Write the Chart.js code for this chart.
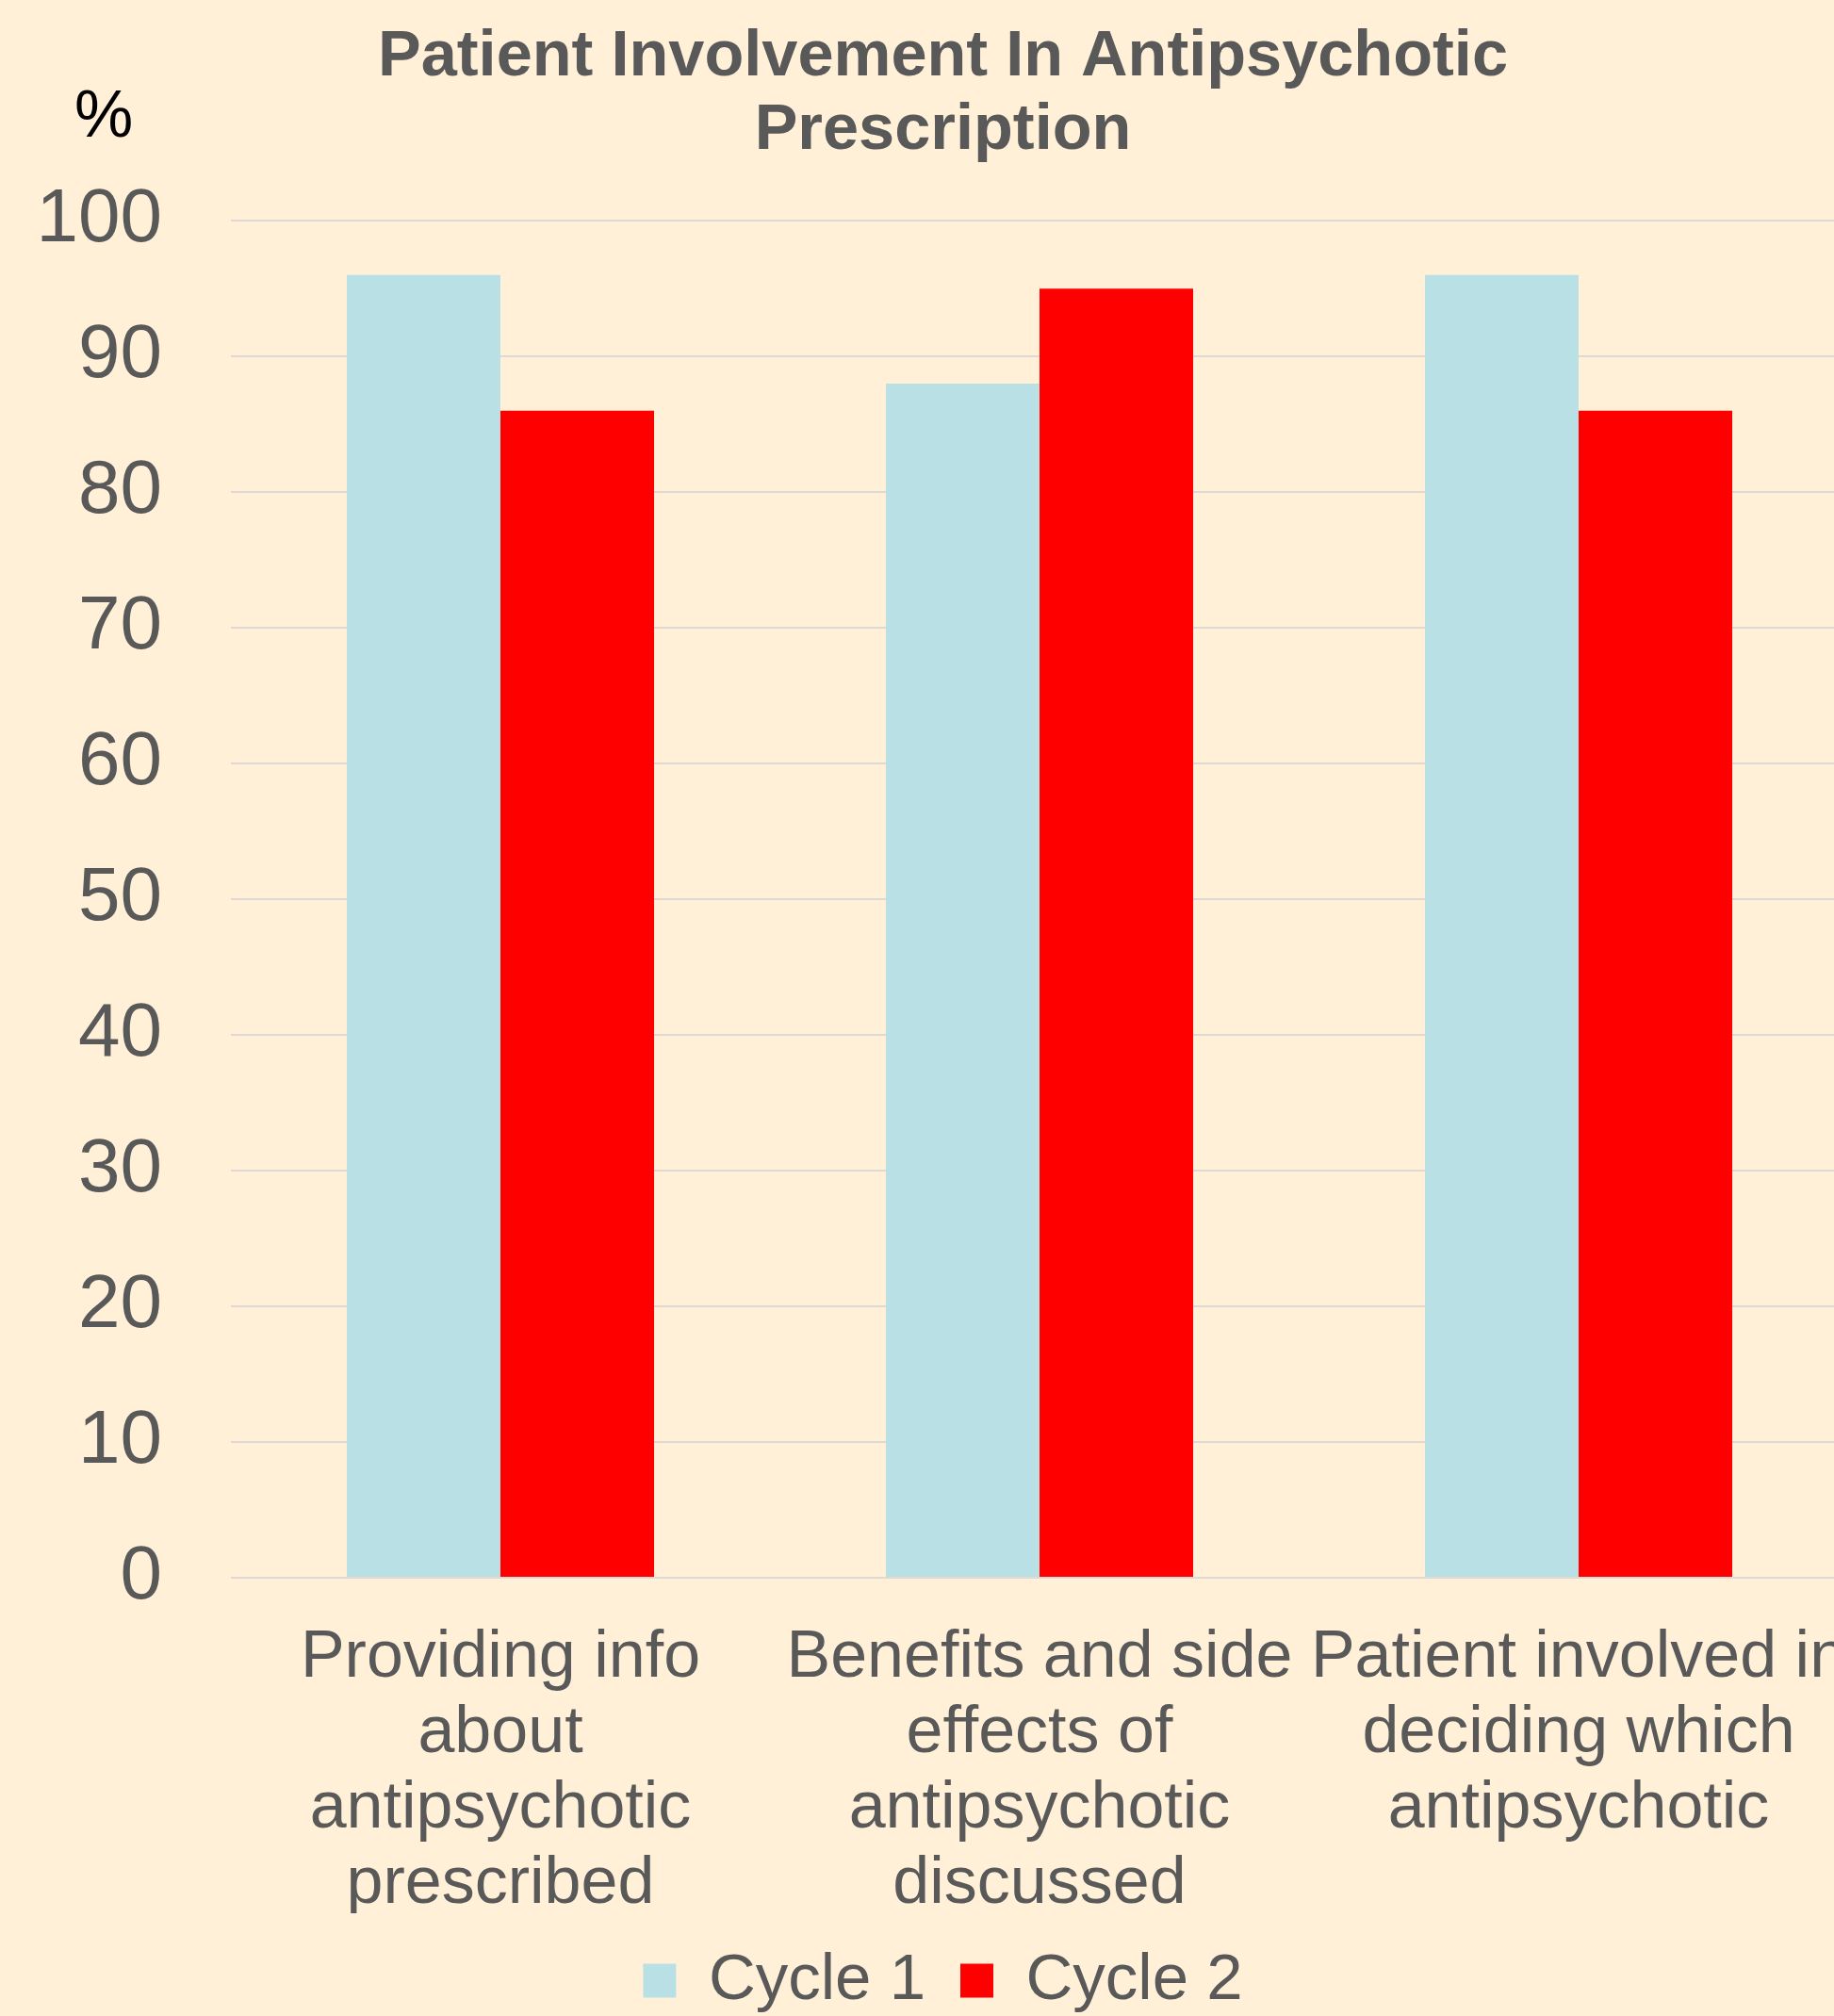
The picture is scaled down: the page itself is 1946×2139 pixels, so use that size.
<!DOCTYPE html>
<html>
<head>
<meta charset="utf-8">
<script src="https://cdn.jsdelivr.net/npm/chart.js@4.4.1/dist/chart.umd.min.js"></script>
<style>
  html, body { margin: 0; padding: 0; overflow: hidden; background: #FFF0D7; }
  #wrap { width: 1961px; height: 2139px; }
  canvas { display: block; }
</style>
</head>
<body>
<div id="wrap"><canvas id="chart" width="1961" height="2139"></canvas></div>
<script>
const categories = [
  ['Providing info', 'about', 'antipsychotic', 'prescribed'],
  ['Benefits and side', 'effects of', 'antipsychotic', 'discussed'],
  ['Patient involved in', 'deciding which', 'antipsychotic']
];
const seriesNames = ['Cycle 1', 'Cycle 2'];
const cycle1 = [96, 88, 96];
const cycle2 = [86, 95, 86];
const yTicks = [0, 10, 20, 30, 40, 50, 60, 70, 80, 90, 100];

const grey = '#595959';
const fontName = '"Liberation Sans", Arial, sans-serif';

// "%" au-dessus de l'axe y
const percentLabel = {
  id: 'percentLabel',
  afterDraw(chart) {
    const { ctx, chartArea } = chart;
    ctx.save();
    ctx.font = '70px ' + fontName;
    ctx.fillStyle = '#000000';
    ctx.textAlign = 'center';
    ctx.textBaseline = 'middle';
    ctx.fillText('%', chartArea.left - 135, chartArea.top - 108);
    ctx.restore();
  }
};

new Chart(document.getElementById('chart'), {
  type: 'bar',
  data: {
    labels: categories,
    datasets: [
      { label: seriesNames[0], data: cycle1, backgroundColor: '#B9E0E4' },
      { label: seriesNames[1], data: cycle2, backgroundColor: '#FF0000' }
    ]
  },
  options: {
    responsive: false,
    animation: false,
    layout: { padding: { left: 40, right: 0, top: 0, bottom: -7 } },
    datasets: { bar: { categoryPercentage: 0.57, barPercentage: 1.0 } },
    plugins: {
      title: {
        display: true,
        text: ['Patient Involvement In Antipsychotic', 'Prescription'],
        color: grey,
        font: { family: fontName, size: 68.5, weight: 'bold', lineHeight: 1.14 },
        padding: { top: 22, bottom: 56 }
      },
      legend: {
        position: 'bottom',
        labels: {
          color: grey,
          font: { family: fontName, size: 69 },
          boxWidth: 35,
          boxHeight: 36,
          padding: 37
        }
      },
      tooltip: { enabled: false }
    },
    scales: {
      x: {
        grid: { display: false, drawTicks: false },
        border: { display: false },
        ticks: {
          color: grey,
          font: { family: fontName, size: 70, lineHeight: 1.143 },
          padding: 46,
          autoSkip: false,
          maxRotation: 0,
          minRotation: 0
        },
        afterFit(scale) {
          scale.height = 356;
          scale.paddingLeft = 0;
          scale.paddingRight = 0;
        }
      },
      y: {
        min: 0,
        max: 100,
        afterBuildTicks(scale) {
          scale.ticks = yTicks.map(v => ({ value: v }));
        },
        grid: { color: '#DDDAD5', lineWidth: 2, drawTicks: false },
        border: { display: false },
        ticks: {
          color: grey,
          font: { family: fontName, size: 80 },
          padding: 73
        },
        afterFit(scale) {
          scale.width = 205;
        }
      }
    }
  },
  plugins: [percentLabel]
});
</script>
</body>
</html>
